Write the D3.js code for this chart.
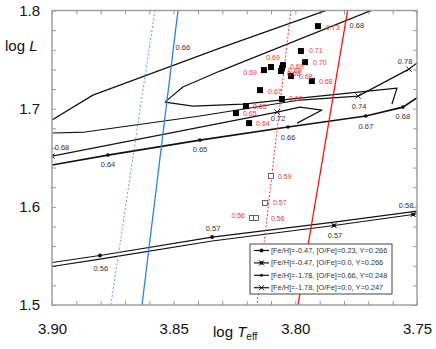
<!DOCTYPE html>
<html>
<head>
<meta charset="utf-8">
<script src="https://cdn.jsdelivr.net/npm/d3@7"></script>
<style>
  body { margin: 0; background: #fff; }
  svg { display: block; font-family: "Liberation Sans", Arial, sans-serif; }
</style>
</head>
<body>
<div id="chart"></div>
<script>
// strip edges, [logTeff, logL]
const blueEdge = [[3.8482, 1.8004], [3.8630, 1.5]];
const blueEdgeDotted = [[3.8577, 1.8004], [3.8758, 1.5]];
const redEdge = [[3.7785, 1.8004], [3.7989, 1.5]];
const redEdgeDotted = [[3.8018, 1.8004], [3.8158, 1.5]];

// model lines, [logTeff, logL]
const richTrackA = [[3.9000, 1.5433], [3.8803, 1.5504], [3.8342, 1.5692], [3.7841, 1.5845], [3.7496, 1.5957]];
const richTrackB = [[3.9000, 1.5392], [3.8803, 1.5468], [3.8342, 1.5652], [3.7841, 1.5810], [3.7516, 1.5922], [3.7496, 1.5932]];
const poorTrackAlpha = [[3.9000, 1.6426], [3.8770, 1.6527], [3.8392, 1.6680], [3.8030, 1.6813], [3.7710, 1.6925], [3.7558, 1.7016], [3.7496, 1.7118]];
const poorTrackA = [[3.9000, 1.6752], [3.8864, 1.6762], [3.8392, 1.6925], [3.7981, 1.7088], [3.7742, 1.7128], [3.7533, 1.7403], [3.7496, 1.7474]];
const poorTrackB = [[3.9000, 1.6517], [3.8075, 1.6965], [3.7981, 1.7016], [3.7890, 1.6986], [3.7993, 1.6853]];
const loopLower = [[3.8536, 1.7067], [3.8421, 1.7026], [3.8215, 1.7047], [3.8022, 1.7098], [3.7582, 1.7210], [3.7603, 1.7047]];
const loopUpper = [[3.8536, 1.7067], [3.8462, 1.7220], [3.8310, 1.7383], [3.7685, 1.8004]];
const topTrack = [[3.9000, 1.6884], [3.8832, 1.7138], [3.8310, 1.7617], [3.7870, 1.8004]];

// markers on the lines
const bigDots = [[3.8803, 1.5504], [3.8342, 1.5692]];
const stars = [[3.7841, 1.5810], [3.7516, 1.5922]];
const smallDots = [[3.8770, 1.6527], [3.8392, 1.6680], [3.8030, 1.6813], [3.7710, 1.6925], [3.7558, 1.7016]];
const crosses = [[3.9000, 1.6517], [3.8075, 1.6965], [3.7742, 1.7128], [3.7533, 1.7403]];

// mass labels on the lines: [text, logTeff, logL]
const massLabels = [
  ["0.66", 3.8462, 1.7627], ["0.68", 3.8959, 1.6609], ["0.64", 3.8770, 1.6436],
  ["0.65", 3.8392, 1.6589], ["0.72", 3.8071, 1.6904], ["0.66", 3.8030, 1.6711],
  ["0.67", 3.7710, 1.6823], ["0.74", 3.7738, 1.7026], ["0.68", 3.7558, 1.6925],
  ["0.78", 3.7549, 1.7485], ["0.68", 3.7747, 1.7851],
  ["0.56", 3.8799, 1.5377], ["0.57", 3.8338, 1.5784], ["0.57", 3.7837, 1.5713],
  ["0.58", 3.7545, 1.6018]
];

// observed stars: logTeff, logL, mass
const starT = [3.7907, 3.7977, 3.7960, 3.8129, 3.8100, 3.8051, 3.8055, 3.8059, 3.8018, 3.7932, 3.8145, 3.8055, 3.8203, 3.8244, 3.8190];
const starL = [1.7841, 1.7587, 1.7474, 1.7393, 1.7424, 1.7444, 1.7413, 1.7383, 1.7332, 1.7281, 1.7189, 1.7098, 1.7026, 1.6955, 1.6853];
const starMass = ["0.73", "0.71", "0.70", "0.69", "0.69", "0.69", "0.69", "0.68", "0.68", "0.68", "0.67", "0.66", "0.65", "0.65", "0.64"];
const openT = [3.8100, 3.8125, 3.8178, 3.8162];
const openL = [1.6314, 1.6039, 1.5886, 1.5886];
const openMass = ["0.59", "0.57", "0.56", "0.56"];

const legendLabels = [
  "[Fe/H]=-0.47, [O/Fe]=0.23, Y=0.266",
  "[Fe/H]=-0.47, [O/Fe]=0.0, Y=0.266",
  "[Fe/H]=-1.78, [O/Fe]=0.66, Y=0.248",
  "[Fe/H]=-1.78, [O/Fe]=0.0, Y=0.247"
];

const xTicks = [3.90, 3.85, 3.80, 3.75];
const yTicks = [1.5, 1.6, 1.7, 1.8];

// label placement for the star masses, px from the square: [dx, dy, anchor]
const starLabelPos = [[8, 1, "start"], [8, 0, "start"], [8, 0, "start"], [-7, 2, "end"], [2, -9, "middle"],
  [7, 1, "start"], [6, 2, "start"], [6, 2, "start"], [8, 0, "start"], [7, 0, "start"],
  [8, 1, "start"], [7, 0, "start"], [7, 0, "start"], [7, 0, "start"], [7, 0, "start"]];
const openLabelPos = [[7, 1, "start"], [8, 0, "start"], [-7, -2, "end"], [15, 1, "start"]];

const width = 436, height = 349;
const margin = {top: 10.5, right: 19, bottom: 44, left: 52};

const x = d3.scaleLinear().domain([3.90, 3.75]).range([margin.left, width - margin.right]);
const y = d3.scaleLinear().domain([1.5, 1.8]).range([height - margin.bottom, margin.top]);

const svg = d3.select("#chart").append("svg")
  .attr("width", width)
  .attr("height", height);

svg.append("clipPath").attr("id", "plot-clip")
  .append("rect")
  .attr("x", margin.left).attr("y", margin.top)
  .attr("width", width - margin.left - margin.right)
  .attr("height", height - margin.top - margin.bottom);

const xMinor = d3.range(0, 16).map(i => +(3.75 + i * 0.01).toFixed(2));
const yMinor = d3.range(0, 16).map(i => +(1.5 + i * 0.02).toFixed(2));
const isTick = (list, v) => list.some(m => Math.abs(m - v) < 1e-6);
const gray = "#9a9a9a";

function styleAxis(g) {
  g.select(".domain").remove();
  g.selectAll(".tick line").attr("stroke", gray).attr("stroke-width", 1);
  g.selectAll(".tick text").attr("font-size", 15).attr("fill", "#111")
    .attr("font-family", "Liberation Sans, Arial, sans-serif");
}

svg.append("g")
  .attr("transform", `translate(0,${y(1.5)})`)
  .call(d3.axisBottom(x).tickValues(xMinor).tickSizeInner(-4).tickSizeOuter(0).tickPadding(18)
    .tickFormat(v => isTick(xTicks, v) ? d3.format(".2f")(v) : ""))
  .call(styleAxis);

svg.append("g")
  .attr("transform", `translate(0,${y(1.8)})`)
  .call(d3.axisTop(x).tickValues(xMinor).tickSizeInner(-4).tickSizeOuter(0).tickFormat(""))
  .call(styleAxis);

svg.append("g")
  .attr("transform", `translate(${x(3.90)},0)`)
  .call(d3.axisLeft(y).tickValues(yMinor).tickSizeInner(-4).tickSizeOuter(0).tickPadding(12)
    .tickFormat(v => isTick(yTicks, v) ? d3.format(".1f")(v) : ""))
  .call(styleAxis);

svg.append("g")
  .attr("transform", `translate(${x(3.75)},0)`)
  .call(d3.axisRight(y).tickValues(yMinor).tickSizeInner(-4).tickSizeOuter(0).tickFormat(""))
  .call(styleAxis);

const line = d3.line().x(d => x(d[0])).y(d => y(d[1]));
const plot = svg.append("g").attr("clip-path", "url(#plot-clip)");

// black model lines
[richTrackA, richTrackB, poorTrackA, poorTrackB, loopLower, loopUpper, topTrack].forEach(t => {
  plot.append("path").attr("d", line(t))
    .attr("fill", "none").attr("stroke", "#111").attr("stroke-width", 1.2)
    .attr("stroke-linejoin", "round");
});
plot.append("path").attr("d", line(poorTrackAlpha))
  .attr("fill", "none").attr("stroke", "#111").attr("stroke-width", 1.7);

// strip edges
plot.append("path").attr("d", line(blueEdgeDotted))
  .attr("fill", "none").attr("stroke", "#5b9cf2").attr("stroke-width", 1).attr("stroke-dasharray", "2,2");
plot.append("path").attr("d", line(blueEdge))
  .attr("fill", "none").attr("stroke", "#2f7ff0").attr("stroke-width", 1.3);
plot.append("path").attr("d", line(redEdgeDotted))
  .attr("fill", "none").attr("stroke", "#ff2a2a").attr("stroke-width", 1).attr("stroke-dasharray", "2,1.8");
plot.append("path").attr("d", line(redEdge))
  .attr("fill", "none").attr("stroke", "#ff1010").attr("stroke-width", 1.3);

// markers
const crossPath = s => `M${-s},${-s}L${s},${s}M${-s},${s}L${s},${-s}`;
plot.selectAll(".bigdot").data(bigDots).join("circle")
  .attr("cx", d => x(d[0])).attr("cy", d => y(d[1])).attr("r", 2).attr("fill", "#111");
plot.selectAll(".smalldot").data(smallDots).join("circle")
  .attr("cx", d => x(d[0])).attr("cy", d => y(d[1])).attr("r", 1.8).attr("fill", "#111");
plot.selectAll(".star").data(stars).join("g")
  .attr("transform", d => `translate(${x(d[0])},${y(d[1])})`)
  .call(g => {
    g.append("rect").attr("x", -1.6).attr("y", -1.6).attr("width", 3.2).attr("height", 3.2).attr("fill", "#111");
    g.append("path").attr("d", crossPath(2.6)).attr("stroke", "#111").attr("stroke-width", 1);
  });
plot.selectAll(".cross").data(crosses).join("path")
  .attr("transform", d => `translate(${x(d[0])},${y(d[1])})`)
  .attr("d", crossPath(2.6)).attr("stroke", "#111").attr("stroke-width", 1).attr("fill", "none");

// mass labels of the lines
svg.append("g").selectAll("text").data(massLabels).join("text")
  .attr("x", d => x(d[1])).attr("y", d => y(d[2]))
  .attr("dy", "0.35em").attr("text-anchor", "middle")
  .attr("font-size", 7.5).attr("fill", "#333")
  .text(d => d[0]);

// observed stars
const filled = starT.map((t, i) => ({t, l: starL[i], m: starMass[i], p: starLabelPos[i]}));
const open = openT.map((t, i) => ({t, l: openL[i], m: openMass[i], p: openLabelPos[i]}));

svg.append("g").selectAll("rect").data(filled).join("rect")
  .attr("x", d => x(d.t) - 3).attr("y", d => y(d.l) - 3)
  .attr("width", 6).attr("height", 6).attr("fill", "#000");
svg.append("g").selectAll("rect").data(open).join("rect")
  .attr("x", d => x(d.t) - 2.5).attr("y", d => y(d.l) - 2.5)
  .attr("width", 5).attr("height", 5).attr("fill", "#fff")
  .attr("stroke", "#555").attr("stroke-width", 0.9);

svg.append("g").selectAll("text").data(filled.concat(open)).join("text")
  .attr("x", d => x(d.t) + d.p[0]).attr("y", d => y(d.l) + d.p[1])
  .attr("dy", "0.35em").attr("text-anchor", d => d.p[2])
  .attr("font-size", 7).attr("fill", "#f03030")
  .text(d => d.m);

// legend
const legend = svg.append("g").attr("transform", "translate(250,244)");
legend.append("rect").attr("width", 142).attr("height", 50)
  .attr("fill", "#fff").attr("stroke", "#444").attr("stroke-width", 1);
const rows = legend.selectAll(".row").data(legendLabels).join("g")
  .attr("transform", (d, i) => `translate(0,${6.5 + i * 12.4})`);
rows.append("line").attr("x1", 4).attr("x2", 19).attr("stroke", "#111").attr("stroke-width", 1.2);
rows.append("text").attr("x", 21).attr("dy", "0.35em")
  .attr("font-size", 7.4).attr("fill", "#333").text(d => d);
rows.each(function(d, i) {
  const g = d3.select(this).append("g").attr("transform", "translate(11.5,0)");
  if (i === 0) g.append("circle").attr("r", 2).attr("fill", "#111");
  if (i === 1) {
    g.append("rect").attr("x", -1.6).attr("y", -1.6).attr("width", 3.2).attr("height", 3.2).attr("fill", "#111");
    g.append("path").attr("d", crossPath(2.6)).attr("stroke", "#111");
  }
  if (i === 2) g.append("circle").attr("r", 1.5).attr("fill", "#111");
  if (i === 3) g.append("path").attr("d", crossPath(2.6)).attr("stroke", "#111");
});

// frame
svg.append("rect")
  .attr("x", margin.left).attr("y", margin.top)
  .attr("width", width - margin.left - margin.right)
  .attr("height", height - margin.top - margin.bottom)
  .attr("fill", "none").attr("stroke", gray).attr("stroke-width", 1.4);

// axis titles
const yTitle = svg.append("text").attr("x", 5).attr("y", 51).attr("font-size", 15).attr("fill", "#111");
yTitle.append("tspan").text("log ");
yTitle.append("tspan").attr("font-style", "italic").text("L");

const xTitle = svg.append("text").attr("x", 213).attr("y", 337).attr("font-size", 15).attr("fill", "#111");
xTitle.append("tspan").text("log ");
xTitle.append("tspan").attr("font-style", "italic").text("T");
xTitle.append("tspan").attr("font-size", 10).attr("dy", 3).text("eff");
</script>
</body>
</html>
